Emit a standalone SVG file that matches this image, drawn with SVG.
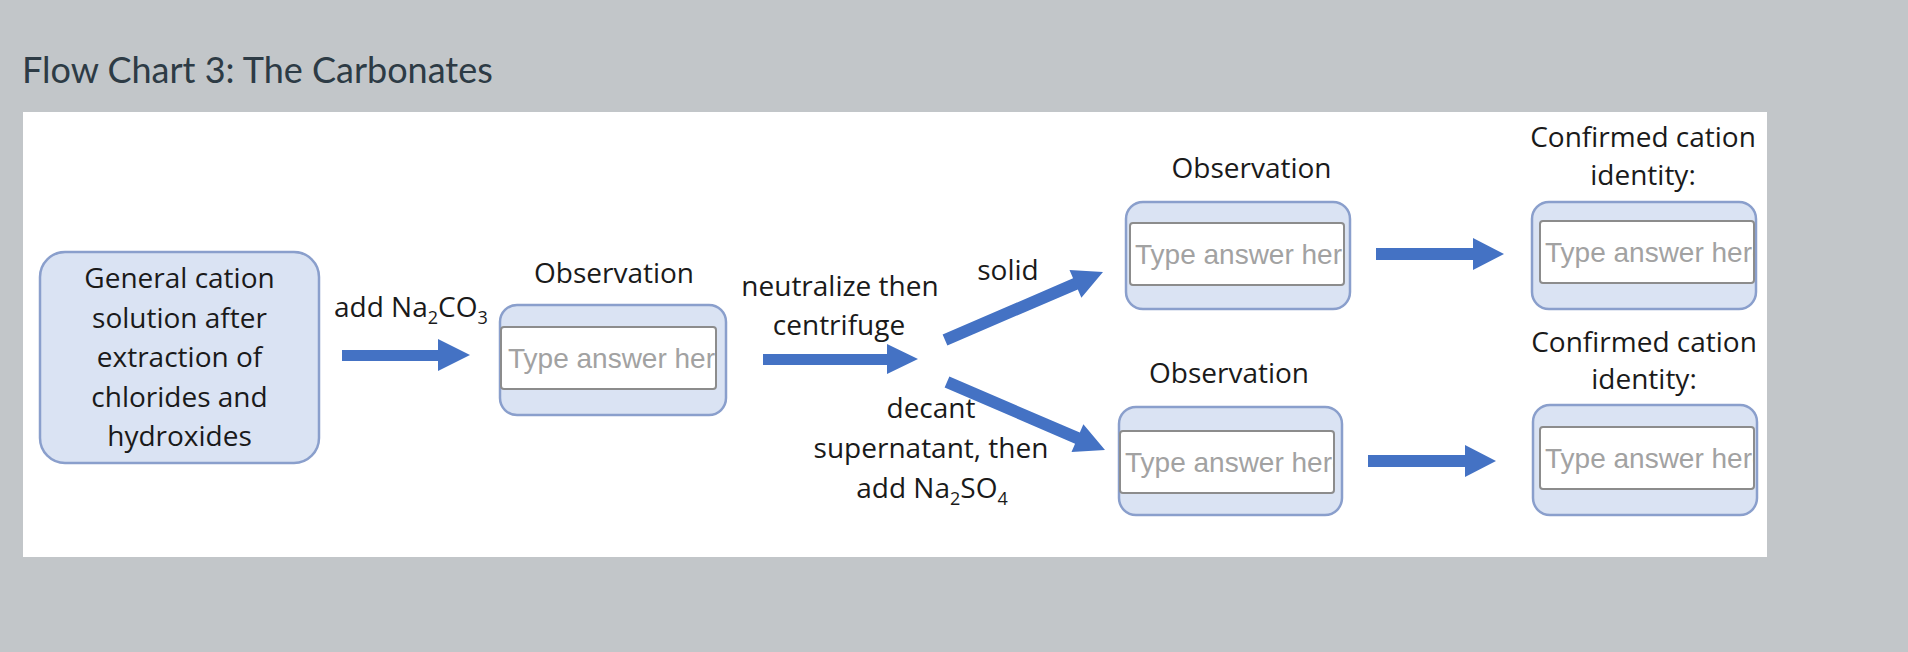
<svg xmlns="http://www.w3.org/2000/svg" width="1908" height="652" viewBox="0 0 1908 652">
<style>
.lbl{font-family:"Open Sans","Noto Sans",sans-serif;font-size:28px;font-weight:500;fill:#1a1a1a;text-anchor:middle}
.lbl-l{font-family:"Open Sans","Noto Sans",sans-serif;font-size:28px;font-weight:500;fill:#1a1a1a}
.sub{font-size:18px}
.box{fill:#dae3f3;stroke:#8a9fcc;stroke-width:2.5}
.inp{fill:#ffffff;stroke:#8c8c8c;stroke-width:2}
.ph{font-family:"Liberation Sans",Arial,sans-serif;font-size:28px;fill:#a2a2a2}
.arr{fill:#4472c4}
</style>
<defs>
<clipPath id="c1"><rect x="502" y="328" width="213" height="60"/></clipPath>
<clipPath id="c2"><rect x="1131" y="224" width="212" height="60"/></clipPath>
<clipPath id="c3"><rect x="1121" y="432" width="212" height="60"/></clipPath>
<clipPath id="c4"><rect x="1541" y="222" width="212" height="60"/></clipPath>
<clipPath id="c5"><rect x="1541" y="428" width="212" height="60"/></clipPath>
</defs>
<rect x="0" y="0" width="1908" height="652" fill="#c2c6c9"/>
<text x="22" y="83" font-family="Lato,'Open Sans',sans-serif" font-size="36" fill="#2d3b45">Flow Chart 3: The Carbonates</text>
<rect x="23" y="112" width="1744" height="445" fill="#ffffff"/>

<g id="start">
<rect class="box" x="40" y="252" width="279" height="211" rx="25"/>
<text class="lbl" x="179.5" y="288">General cation</text>
<text class="lbl" x="179.5" y="328">solution after</text>
<text class="lbl" x="179.5" y="367">extraction of</text>
<text class="lbl" x="179.5" y="407">chlorides and</text>
<text class="lbl" x="179.5" y="446">hydroxides</text>
</g>

<g id="obs1">
<text class="lbl" x="614" y="283">Observation</text>
<rect class="box" x="500" y="305" width="226" height="110" rx="17"/>
<rect class="inp" x="501" y="327" width="215" height="62" rx="3"/>
<text class="ph" x="508" y="368" clip-path="url(#c1)">Type answer here</text>
</g>

<g id="obs-solid">
<text class="lbl" x="1251.5" y="178">Observation</text>
<rect class="box" x="1126" y="202" width="224" height="107" rx="17"/>
<rect class="inp" x="1130" y="223" width="214" height="62" rx="3"/>
<text class="ph" x="1135" y="264" clip-path="url(#c2)">Type answer here</text>
</g>

<g id="obs-super">
<text class="lbl" x="1229" y="383">Observation</text>
<rect class="box" x="1119" y="407" width="223" height="108" rx="17"/>
<rect class="inp" x="1120" y="431" width="214" height="62" rx="3"/>
<text class="ph" x="1125" y="472" clip-path="url(#c3)">Type answer here</text>
</g>

<g id="conf1">
<text class="lbl" x="1643" y="147">Confirmed cation</text>
<text class="lbl" x="1643" y="185">identity:</text>
<rect class="box" x="1532" y="202" width="224" height="107" rx="17"/>
<rect class="inp" x="1540" y="221" width="214" height="62" rx="3"/>
<text class="ph" x="1545" y="262" clip-path="url(#c4)">Type answer here</text>
</g>

<g id="conf2">
<text class="lbl" x="1644" y="352">Confirmed cation</text>
<text class="lbl" x="1644" y="389">identity:</text>
<rect class="box" x="1533" y="405" width="224" height="110" rx="17"/>
<rect class="inp" x="1540" y="427" width="214" height="62" rx="3"/>
<text class="ph" x="1545" y="468" clip-path="url(#c5)">Type answer here</text>
</g>

<g id="connectors">
<polygon class="arr" points="342,350 438,350 438,339 470,355 438,371 438,361 342,361"/>
<text class="lbl-l" x="334" y="317">add Na<tspan class="sub" dy="7">2</tspan><tspan dy="-7">CO</tspan><tspan class="sub" dy="7">3</tspan></text>

<polygon class="arr" points="763,354 887,354 887,344 918,359 887,374 887,365 763,365"/>
<text class="lbl" x="840" y="296">neutralize then</text>
<text class="lbl" x="839" y="335">centrifuge</text>

<g transform="translate(945,340) rotate(-23.28)">
<polygon class="arr" points="0,-6 142,-6 142,-15 172,0 142,15 142,6 0,6"/>
</g>
<text class="lbl" x="1008" y="280">solid</text>

<g transform="translate(947,382) rotate(23.28)">
<polygon class="arr" points="0,-6 142,-6 142,-15 172,0 142,15 142,6 0,6"/>
</g>
<text class="lbl" x="931" y="418">decant</text>
<text class="lbl" x="931" y="458">supernatant, then</text>
<text class="lbl" x="932" y="498">add Na<tspan class="sub" dy="7">2</tspan><tspan dy="-7">SO</tspan><tspan class="sub" dy="7">4</tspan></text>

<polygon class="arr" points="1376,248 1473,248 1473,238 1504,254 1473,270 1473,260 1376,260"/>
<polygon class="arr" points="1368,455 1465,455 1465,445 1496,461 1465,477 1465,467 1368,467"/>
</g>
</svg>
